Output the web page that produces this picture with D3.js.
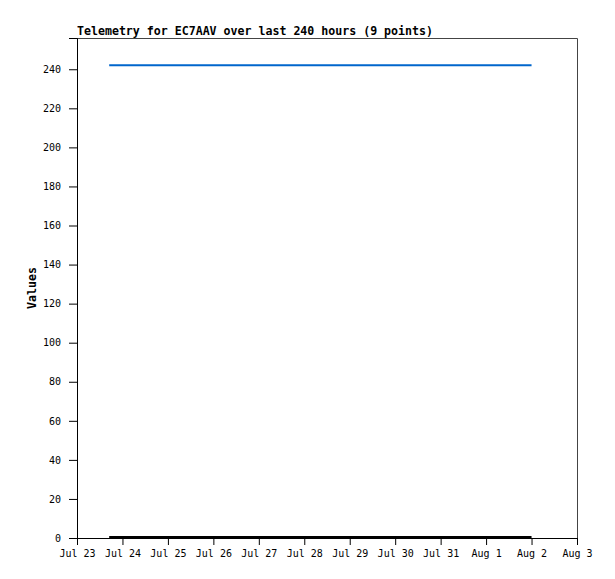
<!DOCTYPE html>
<html><head><meta charset="utf-8">
<script src="https://cdn.jsdelivr.net/npm/d3@7"></script>
<style>body{margin:0;background:#fff}svg{display:block}</style>
</head><body>
<div id="chart"></div>
<script>
const title = "Telemetry for EC7AAV over last 240 hours (9 points)";
const yLabel = "Values";
const times = ["2024-07-23T17:00Z","2024-07-24T23:00Z","2024-07-26T05:00Z","2024-07-27T11:00Z","2024-07-28T17:00Z","2024-07-29T23:00Z","2024-07-31T05:00Z","2024-08-01T11:00Z","2024-08-02T00:00Z"];
const seriesBlue = [242,242,242,242,242,242,242,242,242];
const seriesBlack = [0,0,0,0,0,0,0,0,0];
const xDomain = ["2024-07-23T00:00Z","2024-08-03T00:00Z"];
const yDomain = [0,256];
const yTicks = [0,20,40,60,80,100,120,140,160,180,200,220,240];

const W=615,H=579, L=77, R=577, T=38, B=538;
const svg=d3.select("#chart").append("svg").attr("width",W).attr("height",H);
const x=d3.scaleUtc().domain(xDomain.map(d=>new Date(d))).range([L,R]);
const y=d3.scaleLinear().domain(yDomain).range([B,T]);
const mono="'DejaVu Sans Mono', monospace";

svg.append("text").attr("x",77).attr("y",35).attr("font-family",mono).attr("font-weight","bold")
  .attr("font-size","11.6px").attr("fill","#000").text(title);

// frame top/right
svg.append("path").attr("d",`M${L},${T+0.5}H${R+0.5}V${B}`).attr("fill","none").attr("stroke","#444").attr("stroke-width",1);

const xAxis=d3.axisBottom(x).ticks(d3.utcDay.every(1)).tickFormat(d3.utcFormat("%b %-d")).tickSizeOuter(0).tickSize(7).tickPadding(5);
const gx=svg.append("g").attr("transform",`translate(0,${B})`).call(xAxis);
const yAxis=d3.axisLeft(y).tickValues(yTicks).tickSizeOuter(0).tickSize(8).tickPadding(8);
const gy=svg.append("g").attr("transform",`translate(${L},0)`).call(yAxis);
[gx,gy].forEach(g=>{g.select(".domain").attr("stroke","#000");g.selectAll(".tick line").attr("stroke","#000");
 g.selectAll("text").attr("font-family",mono).attr("font-size","10px").attr("fill","#000");});

svg.append("text").attr("transform",`translate(36,288) rotate(-90)`).attr("text-anchor","middle")
  .attr("font-family",mono).attr("font-weight","bold").attr("font-size","11.6px").text(yLabel);

const pts=times.map((t,i)=>({t:new Date(t),b:seriesBlue[i],k:seriesBlack[i]}));
const lb=d3.line().x(d=>x(d.t)).y(d=>y(d.b));
const lk=d3.line().x(d=>x(d.t)).y(d=>y(d.k));
svg.append("path").datum(pts).attr("d",lk).attr("fill","none").attr("stroke","#000").attr("stroke-width",2).attr("transform","translate(0,-1)");
svg.append("path").datum(pts).attr("d",lb).attr("fill","none").attr("stroke","#0066cc").attr("stroke-width",2);
</script>
</body></html>
